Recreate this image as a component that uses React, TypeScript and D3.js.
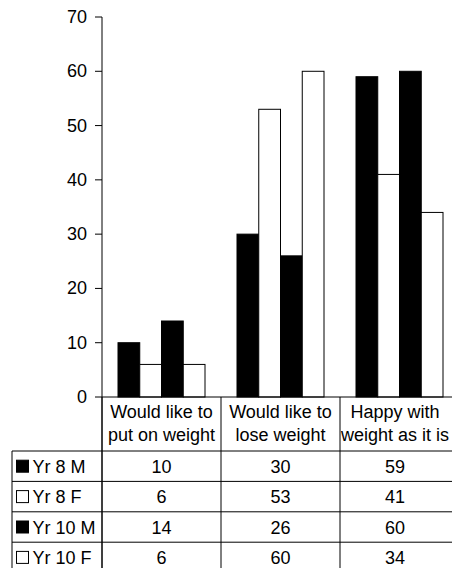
import React from "react";
import * as d3 from "d3";

// Survey: attitudes to body weight, by school year and sex
const categories: string[][] = [
  ["Would like to", "put on weight"],
  ["Would like to", "lose weight"],
  ["Happy with", "weight as it is"],
];
const seriesNames = ["Yr 8 M", "Yr 8 F", "Yr 10 M", "Yr 10 F"];
const seriesFill = ["#000000", "#ffffff", "#000000", "#ffffff"];
const yr8M = [10, 30, 59];
const yr8F = [6, 53, 41];
const yr10M = [14, 26, 60];
const yr10F = [6, 60, 34];
const yTicks = [0, 10, 20, 30, 40, 50, 60, 70];

const seriesValues = [yr8M, yr8F, yr10M, yr10F];

const W = 452;
const H = 568;
const FONT = "Liberation Sans, Arial, Helvetica, sans-serif";
const FS = 18;

export default function App() {
  const plotLeft = 102;
  const catWidth = 119;
  const plotRight = plotLeft + catWidth * categories.length;
  const tableLeft = 12;
  const headerBottom = 451;
  const rowH = 30.4;

  const y = d3.scaleLinear().domain([0, 70]).range([397, 17]);
  const x0 = d3
    .scaleBand<number>()
    .domain(categories.map((_, i) => i))
    .range([plotLeft, plotRight])
    .paddingInner(0)
    .paddingOuter(0);
  const groupPad = 16;
  const x1 = d3
    .scaleBand<number>()
    .domain(seriesNames.map((_, i) => i))
    .range([groupPad, catWidth - groupPad])
    .padding(0);

  // labels are centred on the visible part of each cell (the last column runs past the edge)
  const visibleCenter = (c: number) => {
    const left = x0(c) as number;
    const right = Math.min(left + catWidth, W - 2);
    return (left + right) / 2;
  };

  const tableBottom = headerBottom + rowH * seriesNames.length;
  const colEdges = d3.range(categories.length + 1).map((i) => plotLeft + i * catWidth);

  return (
    <svg
      width={W}
      height={H}
      style={{ position: "absolute", left: 0, top: 0, background: "#fff" }}
      fontFamily={FONT}
      fontSize={FS}
    >
      {/* bars */}
      {seriesValues.map((vals, s) =>
        vals.map((v, c) => (
          <rect
            key={`${s}-${c}`}
            x={(x0(c) as number) + (x1(s) as number)}
            y={y(v)}
            width={x1.bandwidth()}
            height={y(0) - y(v)}
            fill={seriesFill[s]}
            stroke="#000"
            strokeWidth={1}
          />
        ))
      )}

      {/* value axis */}
      <line x1={plotLeft} x2={plotLeft} y1={y(70)} y2={tableBottom} stroke="#000" />
      {yTicks.map((t) => (
        <g key={t}>
          <line x1={plotLeft - 7} x2={plotLeft} y1={y(t)} y2={y(t)} stroke="#000" />
          <text x={plotLeft - 15} y={y(t) + 6} textAnchor="end">
            {t}
          </text>
        </g>
      ))}
      <line x1={plotLeft} x2={plotRight} y1={y(0)} y2={y(0)} stroke="#000" />

      {/* category header cells */}
      {colEdges.map((xe, i) => (
        <line key={i} x1={xe} x2={xe} y1={y(0)} y2={tableBottom} stroke="#000" />
      ))}
      {categories.map((lines, c) => (
        <text key={c} textAnchor="middle">
          {lines.map((l, k) => (
            <tspan key={k} x={visibleCenter(c)} y={418 + k * 23}>
              {l}
            </tspan>
          ))}
        </text>
      ))}

      {/* data table */}
      <line x1={tableLeft} x2={tableLeft} y1={headerBottom} y2={tableBottom} stroke="#000" />
      {d3.range(seriesNames.length + 1).map((r) => (
        <line
          key={r}
          x1={tableLeft}
          x2={plotRight}
          y1={headerBottom + r * rowH}
          y2={headerBottom + r * rowH}
          stroke="#000"
        />
      ))}
      {seriesNames.map((name, s) => {
        const cy = headerBottom + s * rowH + rowH / 2;
        return (
          <g key={name}>
            <rect
              x={16.5}
              y={cy - 6}
              width={12}
              height={12}
              fill={seriesFill[s]}
              stroke="#000"
              strokeWidth={1}
            />
            <text x={32.5} y={cy + 6.5}>
              {name}
            </text>
            {seriesValues[s].map((v, c) => (
              <text key={c} x={visibleCenter(c)} y={cy + 6.5} textAnchor="middle">
                {v}
              </text>
            ))}
          </g>
        );
      })}
    </svg>
  );
}
